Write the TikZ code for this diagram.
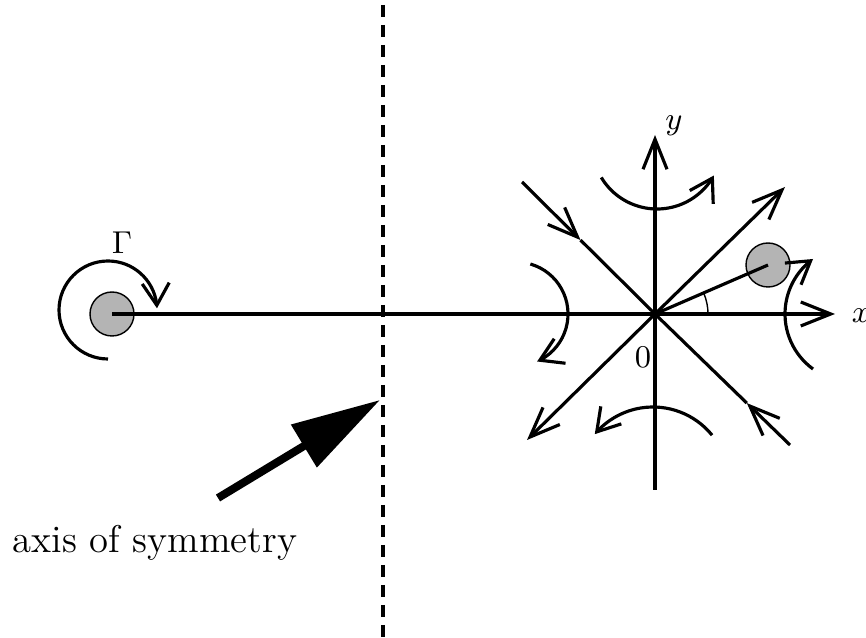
\documentclass[tikz,border=0pt]{standalone}
\usepackage{amsmath}
\usepackage{xcolor}
\definecolor{vortexgray}{RGB}{180,180,180}
\usetikzlibrary{arrows.meta, bending, positioning, calc}

\begin{document}
\begin{tikzpicture}[
  flow/.style={line width=0.9pt, -{Straight Barb[length=0.3cm, width=0.24cm]}},
  swirl/.style={line width=0.9pt, -{Straight Barb[length=0.22cm, width=0.27cm, flex]}},
  plain/.style={line width=0.9pt},
  vortex/.style={circle, draw=black, fill=vortexgray, minimum size=0.44cm, inner sep=0pt},
  lbl/.style={font=\fontsize{9}{10}\selectfont}
]
\useasboundingbox (0,0) rectangle (8.66,6.38);

% --- Axis of symmetry ---
\coordinate (symTop) at (3.83,6.33);
\coordinate (symBot) at (3.83,0.0);
\draw[line width=1.2pt, dash pattern=on 0.12cm off 0.08cm] (symTop) -- (symBot);

% Big pointer to the axis
\coordinate (bigTail) at (2.18,1.40);
\coordinate (bigTip) at (3.80,2.38);
\draw[line width=0.08cm, -{Triangle[length=0.89cm, width=0.48cm]}] (bigTail) -- (bigTip);
\node[font=\fontsize{11}{13}\selectfont, anchor=base] (symLabel) at (1.55,0.85) {axis of symmetry};

% --- Left vortex (image) ---
\node[vortex] (vortL) at (1.12,3.24) {};
\coordinate (gamC) at (1.08,3.28);
\draw[swirl] ([shift={(270:0.49)}]gamC) arc[start angle=270, end angle=2, radius=0.49];
\node[lbl] (gamma) at (1.22,3.95) {$\Gamma$};

% --- Axes at the origin ---
\coordinate (O) at (6.55,3.24);
\coordinate (xTip) at (8.35,3.24);
\coordinate (yBot) at (6.55,1.48);
\coordinate (yTip) at (6.55,5.03);
\draw[flow] (vortL.center) -- (xTip);
\draw[flow] (yBot) -- (yTip);
\node[lbl] (xLab) at (8.61,3.22) {$x$};
\node[lbl] (yLab) at (6.74,5.12) {$y$};
\node[lbl] (zero) at (6.43,2.81) {$0$};

% Separatrices
\coordinate (neTip) at (7.85,4.51);
\coordinate (swTip) at (5.27,1.98);
\coordinate (nwEnd) at (5.22,4.56);
\coordinate (seEnd) at (7.90,1.93);
\coordinate (nwMid) at ($(nwEnd)!0.44!(O)$);
\coordinate (seMid) at ($(seEnd)!0.32!(O)$);
\draw[flow] (O) -- (neTip);
\draw[flow] (O) -- (swTip);
\draw[flow] (nwEnd) -- (nwMid);
\draw[plain] (nwMid) -- (O);
\draw[flow] (seEnd) -- (seMid);
\draw[plain] (seMid) -- (O);

% --- Right vortex ---
\node[vortex] (vortR) at (7.68,3.73) {};
\draw[plain] (O) -- (vortR.center);
\draw[thin] ([shift={(0:0.53)}]O) arc[start angle=0, end angle=23, radius=0.53];

% Hyperbolic flow arcs
\coordinate (topC) at (6.57,4.94);
\coordinate (botC) at (6.53,1.55);
\coordinate (leftC) at (5.16,3.24);
\coordinate (rightC) at (8.53,3.24);
\draw[swirl] ([shift={(211:0.65)}]topC) arc[start angle=211, end angle=331, radius=0.65];
\draw[swirl] ([shift={(39:0.76)}]botC) arc[start angle=39, end angle=140, radius=0.76];
\draw[swirl] ([shift={(74:0.52)}]leftC) arc[start angle=74, end angle=-66, radius=0.52];
\draw[swirl] ([shift={(234:0.68)}]rightC) arc[start angle=234, end angle=126, radius=0.68];

\end{tikzpicture}
\end{document}
